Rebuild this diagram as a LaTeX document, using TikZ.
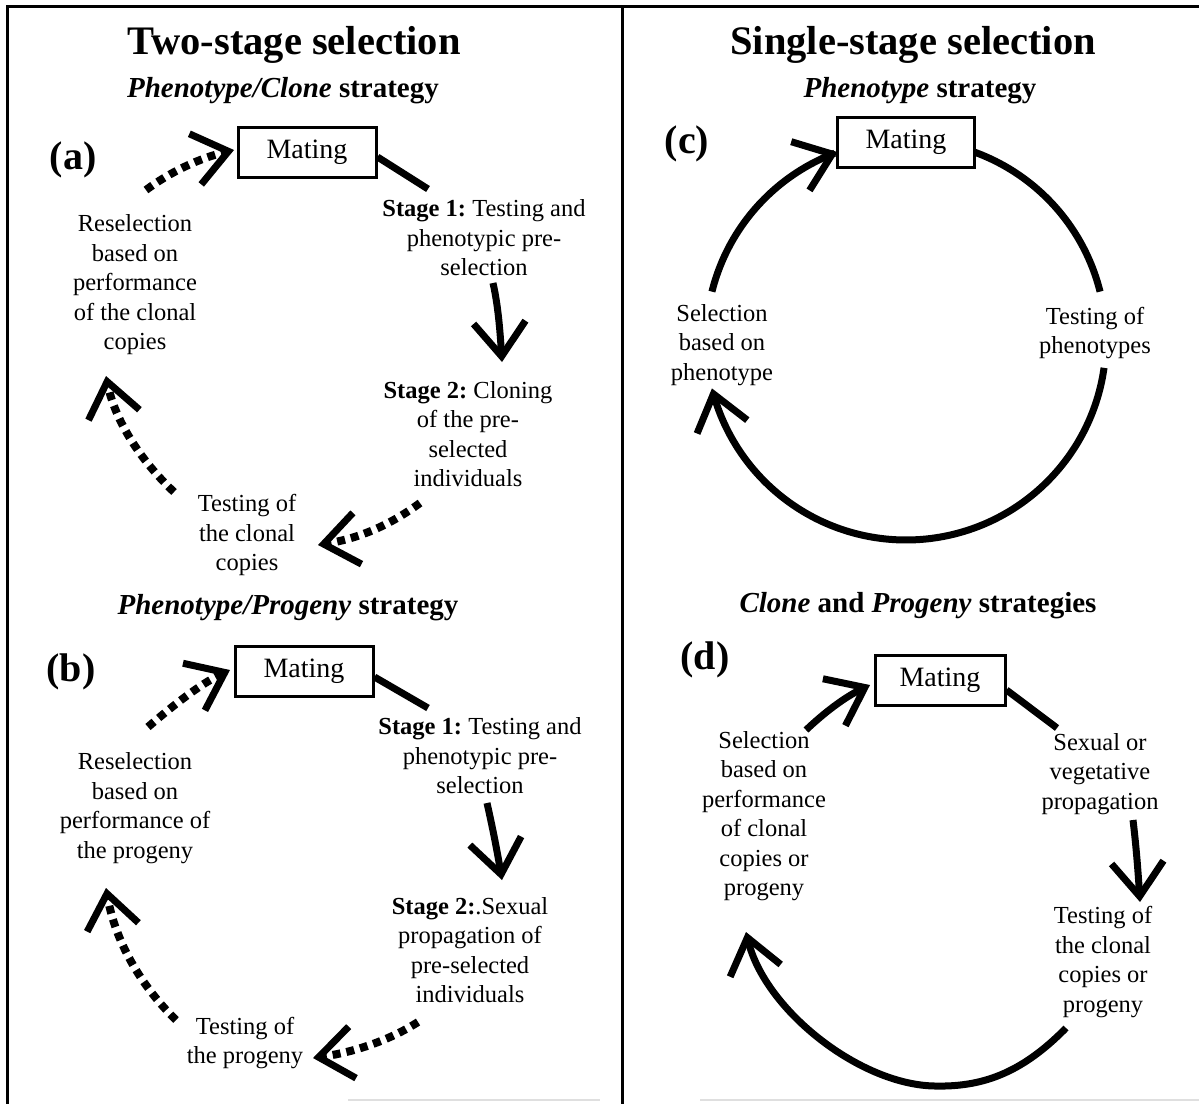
\documentclass[tikz,border=0pt]{standalone}
\usepackage{fontspec}
\setmainfont{Liberation Serif}
\usetikzlibrary{arrows.meta,calc}
\frenchspacing
\begin{document}
\begin{tikzpicture}[x=1pt,y=-1pt,
  body/.style={align=center,font=\frenchspacing\fontsize{24.5}{29.5}\selectfont,inner sep=0pt},
  matebox/.style={draw,line width=3pt,minimum width=138pt,minimum height=50pt,font=\fontsize{28}{30}\selectfont,inner sep=0pt},
  ttl/.style={font=\bfseries\fontsize{40.5}{44}\selectfont,inner sep=0pt},
  sub/.style={font=\bfseries\fontsize{29}{32}\selectfont,inner sep=0pt},
  plab/.style={font=\bfseries\fontsize{40}{44}\selectfont,inner sep=0pt},
  thk/.style={line width=7pt},
  dotline/.style={line width=8pt,dash pattern=on 8pt off 6pt},
  tip/.style={-{Straight Barb[length=34pt,width=52pt,line width=7pt]}},
]
\useasboundingbox (0,0) rectangle (1199,1104);
\fill[white] (0,0) rectangle (1199,1104);
% frame
\draw[line width=3pt] (1199,6) -- (7,6) -- (7,1104);
\draw[line width=3pt] (622,6) -- (622,1104);
\draw[gray!25,line width=2pt] (348,1100) -- (600,1100) (700,1100) -- (1199,1100);

% titles
\node[ttl] (t1) at (294,45) {Two-stage selection};
\node[sub] (s1) at (283,91) {\textit{Phenotype/Clone} strategy};
\node[ttl] (t2) at (913,45) {Single-stage selection};
\node[sub] (s3) at (920,91) {\textit{Phenotype} strategy};
\node[sub] (s2) at (288,608) {\textit{Phenotype/Progeny} strategy};
\node[sub] (s4) at (918,606) {\textit{Clone} and \textit{Progeny} strategies};
\node[plab] (pa) at (73,160) {(a)};
\node[plab] (pb) at (71,672) {(b)};
\node[plab] (pc) at (687,144) {(c)};
\node[plab] (pd) at (705,660) {(d)};

% panel (a)
\node[matebox] (mA) at (307,152) {Mating};
\node[body] (a1) at (484,238) {\textbf{Stage 1:} Testing and\\phenotypic pre-\\selection};
\node[body] (a2) at (468,434) {\textbf{Stage 2:} Cloning\\of the pre-\\selected\\individuals};
\node[body] (a3) at (247,535) {Testing of\\the clonal\\copies};
\node[body] (a4) at (135,285) {Reselection\\based on\\performance\\of the clonal\\copies};
\coordinate (a1in) at (428,189);
\coordinate (a1out) at (493,283);
\coordinate (a2in) at (502,362);
\coordinate (a2out) at (420,503);
\coordinate (a3in) at (318,545);
\coordinate (a3out) at (174,492);
\coordinate (a4in) at (106,376);
\coordinate (a4out) at (146,190);
\coordinate (mAin) at (234,150);
\draw[thk] ($(mA.east)+(0,5)$) -- (a1in);
\draw[thk,tip] (a1out) .. controls (498,305) and (500,330) .. (a2in);
\draw[dotline,tip] (a2out) .. controls (390,525) and (360,538) .. (a3in);
\draw[dotline,tip] (a3out) .. controls (140,460) and (115,420) .. (a4in);
\draw[dotline,tip] (a4out) .. controls (170,172) and (200,158) .. (mAin);

% panel (b)
\node[matebox] (mB) at (304,671) {Mating};
\node[body] (b1) at (480,756) {\textbf{Stage 1:} Testing and\\phenotypic pre-\\selection};
\node[body] (b2) at (470,950) {\textbf{Stage 2:}.Sexual\\propagation of\\pre-selected\\individuals};
\node[body] (b3) at (245,1043) {Testing of\\the progeny};
\node[body] (b4) at (135,808) {Reselection\\based on\\performance of\\the progeny};
\coordinate (b1in) at (428,708);
\coordinate (b1out) at (487,803);
\coordinate (b2in) at (502,880);
\coordinate (b2out) at (418,1022);
\coordinate (b3in) at (313,1058);
\coordinate (b3out) at (176,1020);
\coordinate (b4in) at (106,888);
\coordinate (b4out) at (148,727);
\coordinate (mBin) at (230,670);
\draw[thk] ($(mB.east)+(0,6)$) -- (b1in);
\draw[thk,tip] (b1out) .. controls (492,825) and (497,850) .. (b2in);
\draw[dotline,tip] (b2out) .. controls (390,1040) and (355,1052) .. (b3in);
\draw[dotline,tip] (b3out) .. controls (140,985) and (115,940) .. (b4in);
\draw[dotline,tip] (b4out) .. controls (170,708) and (200,684) .. (mBin);

% panel (c)
\node[matebox,minimum width=137pt] (mC) at (906,142) {Mating};
\node[body] (c1) at (1095,333) {Testing of\\phenotypes};
\node[body] (c2) at (722,345) {Selection\\based on\\phenotype};
\draw[thk] plot[domain=-70:-14,samples=40,smooth] ({906+200*cos(\x)},{340+200*sin(\x)});
\draw[thk,tip] plot[domain=8:166,samples=60,smooth] ({906+200*cos(\x)},{340+200*sin(\x)});
\draw[thk,tip] plot[domain=194:250,samples=40,smooth] ({906+200*cos(\x)},{340+200*sin(\x)});

% panel (d)
\node[matebox,minimum width=130pt] (mD) at (940,680) {Mating};
\node[body] (d1) at (1100,774) {Sexual or\\vegetative\\propagation};
\node[body] (d2) at (1103,962) {Testing of\\the clonal\\copies or\\progeny};
\node[body] (d3) at (764,816) {Selection\\based on\\performance\\of clonal\\copies or\\progeny};
\coordinate (d1in) at (1057,728);
\coordinate (d1out) at (1133,820);
\coordinate (d2in) at (1140,902);
\coordinate (d2out) at (1066,1028);
\coordinate (dbot) at (935,1086);
\coordinate (d3in) at (746,932);
\coordinate (d3out) at (806,730);
\coordinate (mDin) at (870,685);
\draw[thk] ($(mD.east)+(0,10)$) -- (d1in);
\draw[thk,tip] (d1out) .. controls (1136,845) and (1138,870) .. (d2in);
\draw[thk,tip] (d2out) .. controls (1020,1075) and (980,1087) .. (dbot) .. controls (860,1085) and (765,1010) .. (d3in);
\draw[thk,tip] (d3out) .. controls (825,712) and (845,697) .. (mDin);
\end{tikzpicture}
\end{document}
